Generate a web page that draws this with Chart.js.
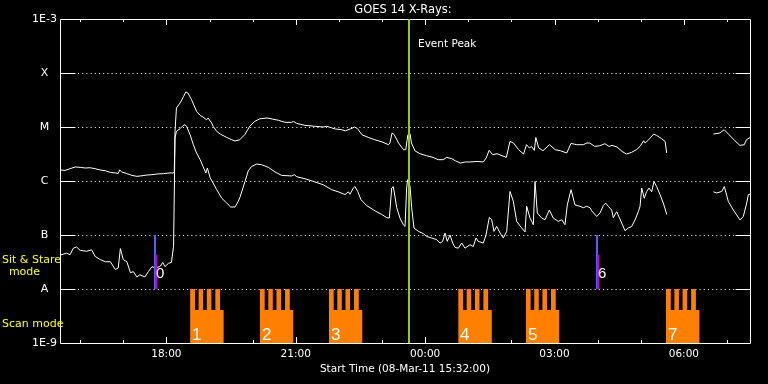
<!DOCTYPE html>
<html><head><meta charset="utf-8">
<script src="https://cdn.jsdelivr.net/npm/chart.js@4"></script>
<style>html,body{margin:0;padding:0;background:#000;}canvas{display:block;}</style>
</head><body>
<canvas id="c" width="768" height="384"></canvas>
<script>
// ---- texts / ticks ----
const chartTitle = 'GOES 14 X-Rays:';
const xAxisTitle = 'Start Time (08-Mar-11 15:32:00)';
const yTickValues = [1e-9, 1e-8, 1e-7, 1e-6, 1e-5, 1e-4, 1e-3];
const yTickLabels = ['1E-9', 'A', 'B', 'C', 'M', 'X', '1E-3'];
const gridLevels = [1e-8, 1e-7, 1e-6, 1e-5, 1e-4];
// x values are minutes after the start time 15:32
const xMax = 960;
const xTickMinutes = [148, 328, 508, 688, 868];
const xTickLabels = ['18:00', '21:00', '00:00', '03:00', '06:00'];
const firstHourTick = 28;

// ---- long channel (upper curve) ----
const longTimes = [0,7,14,21,28,35,42,49,56,63,70,77,81,83,86,93,100,107,114,121,128,135,144,153,158,159,160,162,167,172,175,178,183,190,195,199,204,206,211,213,218,223,232,239,243.5,250,257,264,271,278,288,295,304,313,322,325,329,341,355,366,371,383,392,397,404,410,414,420,429,438,448,457,459,462,465,471,478,481,484,487,489,494,501,510,519,526,533,538,545,550,557,564,570,580,589,593,597,602,608,615,621,626,631,638,645,649,653,656,660,662,666,672,681,689,696,705,711,719,728,733,737,744,751,758,764,768,775,782,788,795,802,807,812,814,819,826,830,837,842,844,870,909,918,924,930,939,946,952,955,960];
const longFlux = [1.6e-6,1.57e-6,1.69e-6,1.82e-6,1.79e-6,1.74e-6,1.76e-6,1.69e-6,1.6e-6,1.55e-6,1.44e-6,1.41e-6,1.38e-6,1.6e-6,1.47e-6,1.37e-6,1.27e-6,1.22e-6,1.25e-6,1.29e-6,1.31e-6,1.35e-6,1.37e-6,1.41e-6,1.41e-6,1.5e-6,8.3e-6,2.25e-5,2.78e-5,3.69e-5,4.45e-5,4.26e-5,3.2e-5,1.95e-5,1.64e-5,1.53e-5,1.36e-5,1.47e-5,1.19e-5,1.03e-5,8.3e-6,7.4e-6,6.4e-6,5.8e-6,5.5e-6,5.8e-6,7.2e-6,1.03e-5,1.27e-5,1.42e-5,1.47e-5,1.41e-5,1.33e-5,1.22e-5,1.22e-5,1.27e-5,1.17e-5,1.07e-5,1.03e-5,1.0e-5,1.03e-5,9.2e-6,8.9e-6,8.5e-6,9.2e-6,1.0e-5,9.3e-6,7.2e-6,6.4e-6,5.8e-6,5.3e-6,4.7e-6,5.05e-6,7.75e-6,7.2e-6,5.05e-6,3.8e-6,3.8e-6,7.2e-6,7.5e-6,5.05e-6,3.6e-6,3.2e-6,2.94e-6,2.74e-6,2.48e-6,2.48e-6,2.74e-6,2.59e-6,2.37e-6,2.15e-6,2.25e-6,2.25e-6,2.3e-6,2.25e-6,2.67e-6,3.69e-6,3.07e-6,3.2e-6,2.94e-6,2.74e-6,5.4e-6,5.05e-6,3.8e-6,3.16e-6,4.7e-6,4.1e-6,4.37e-6,3.69e-6,6.4e-6,4.1e-6,3.64e-6,4.7e-6,3.8e-6,3.64e-6,3.3e-6,4.97e-6,4.7e-6,4.7e-6,5.05e-6,5.05e-6,4.37e-6,4.5e-6,4.9e-6,4.37e-6,4.56e-6,4.26e-6,3.53e-6,3.16e-6,3.38e-6,3.8e-6,4.37e-6,5.57e-6,5.05e-6,5.8e-6,7.4e-6,7.0e-6,6.07e-6,5.4e-6,3.3e-6,null,7.4e-6,7.75e-6,8.9e-6,7.4e-6,5.57e-6,4.56e-6,4.7e-6,5.8e-6,6.4e-6];

// ---- short channel (lower curve) ----
const shortTimes = [1.4,9.3,14,18.5,23,28,37,44,49,56,63,70,77,81,84,88,93,98,102,107,111,118,123,128,132,139,143,146,151,155,158,160,162,167,171.5,174,176,181,185.5,190,195,199,203,205,209,213,218,225,232,237.5,243.5,248,250.4,257.4,262,266.7,273.7,280.6,289.8,299.1,308.4,322.4,326,329.3,340.9,354.8,366.3,378,387.2,396.5,401.1,403.5,408.1,410.4,414.2,418.8,426.7,438.3,447.6,454.5,458.2,461.5,463.7,468.5,473,477.6,480,482.3,483.7,487,489.3,492.5,498.5,505.5,510.2,517.1,524.1,528.7,532.4,535.7,538.8,542.6,546.4,549.6,554.2,558.9,563.5,570.4,575,578.8,582,588.9,592.7,597.3,600.6,603.8,607.6,612.2,616.8,621.5,626.1,630.7,635.4,642.3,647,649.3,653.9,656.3,658.5,660.9,664.1,670.2,674.8,680.8,686.4,693.3,698.1,702.6,705.8,711,716.5,723.5,728.1,732.8,737.4,739.8,746.7,751.3,755.9,759.2,762.8,767.6,769.8,774.5,781.5,786.1,790.7,795.4,800,804.6,807,809.3,812.9,816.3,819.5,823.2,826.4,830.1,834.8,839.4,844.2,870,909,913.7,920.7,924.3,929.8,936.8,946.1,950.7,955.4,957.7,960];
const shortFlux = [4.3e-8,4.6e-8,4.3e-8,5.7e-8,6.0e-8,5.2e-8,5.0e-8,5.3e-8,4.0e-8,3.5e-8,3.2e-8,3.2e-8,2.3e-8,2.45e-8,5.6e-8,3.5e-8,3.2e-8,2.0e-8,2.1e-8,1.67e-8,1.84e-8,1.67e-8,2.1e-8,2.6e-8,2.45e-8,2.6e-8,3.1e-8,2.6e-8,3.0e-8,3.1e-8,6.2e-8,6.25e-6,8.3e-6,9.3e-6,1.07e-5,1.1e-5,1.03e-5,7.2e-6,4.7e-6,3.3e-6,2.48e-6,1.86e-6,1.41e-6,1.74e-6,1.14e-6,9.2e-7,6.9e-7,4.8e-7,3.9e-7,3.3e-7,3.3e-7,4.2e-7,5.0e-7,9.8e-7,1.55e-6,1.86e-6,2.06e-6,2.0e-6,1.79e-6,1.47e-6,1.27e-6,1.24e-6,1.31e-6,1.2e-6,1.1e-6,9.6e-7,8.5e-7,6.9e-7,6.3e-7,5.6e-7,6.3e-7,5.7e-7,7.4e-7,7.9e-7,6.4e-7,4.5e-7,3.5e-7,2.8e-7,2.4e-7,2.1e-7,2.06e-7,7.4e-7,7.9e-7,3.2e-7,2.06e-7,1.55e-7,1.44e-7,7.4e-7,1.06e-6,8.0e-7,3.2e-7,1.35e-7,1.17e-7,1.06e-7,9.4e-8,8.8e-8,8.2e-8,7.1e-8,7.6e-8,1.09e-7,7.6e-8,1.0e-7,7.1e-8,5.9e-8,5.7e-8,7.1e-8,5.7e-8,6.6e-8,6.1e-8,8.8e-8,7.6e-8,7.1e-8,1.0e-7,2.12e-7,1.92e-7,1.17e-7,1.44e-7,1.09e-7,8.8e-8,1.17e-7,6.4e-7,4.2e-7,1.79e-7,1.35e-7,1.14e-7,3.4e-7,2.06e-7,1.79e-7,1.55e-7,9.8e-7,2.55e-7,2.06e-7,1.92e-7,2.9e-7,2.06e-7,1.79e-7,1.92e-7,1.55e-7,3.6e-7,6.9e-7,3.6e-7,3.4e-7,3.2e-7,3.4e-7,3.2e-7,2.8e-7,2.2e-7,2.55e-7,3.5e-7,3.9e-7,3.4e-7,2.9e-7,2.1e-7,2.7e-7,1.67e-7,1.2e-7,1.35e-7,1.44e-7,1.9e-7,2.7e-7,3.4e-7,7.4e-7,4.8e-7,6.4e-7,7.4e-7,6.3e-7,9.8e-7,7.9e-7,5.6e-7,3.9e-7,2.4e-7,null,6.3e-7,6.0e-7,6.4e-7,7.9e-7,4.2e-7,2.9e-7,1.9e-7,2.2e-7,3.9e-7,5.6e-7,5.7e-7];

// ---- events ----
const eventPeakMinute = 486;
const eventPeakLabel = 'Event Peak';
const sitStareMinutes = [132.5, 747];
const sitStareLabels = ['0', '6'];
const sitStareTop = 1e-7, sitStareMid = 4.3e-8, sitStareBottom = 1e-8;
const scanStarts = [181, 278, 374, 554, 648, 843];
const scanLabels = ['1', '2', '3', '4', '5', '7'];
const scanOffsets = [0, 6.8, 11.8, 18.1, 23.2, 29.6, 35.1, 41.7, 46.9];
const scanLevels = [1e-8, 4.1e-9, 1e-8, 4.1e-9, 1e-8, 4.1e-9, 1e-8, 4.1e-9, 4.1e-9];

// ---- build datasets from the arrays ----
const pairs = (ts, vs) => ts.map((t, i) => ({x: t, y: vs[i]}));
const scanData = [];
scanStarts.forEach(s => {
  scanOffsets.forEach((o, i) => scanData.push({x: s + o, y: scanLevels[i]}));
  scanData.push({x: s + scanOffsets[scanOffsets.length - 1] + 3, y: null});
});

const FONT = 'DejaVu Sans';

const framePlugin = {
  id: 'frame',
  beforeDatasetsDraw(chart) {
    const {ctx, chartArea: a, scales: {x, y}} = chart;
    const L = Math.round(a.left) + 0.5, R = Math.round(a.right) + 0.5;
    const T = Math.round(a.top) + 0.5, B = Math.round(a.bottom) + 0.5;
    ctx.save();
    ctx.strokeStyle = '#fff';
    ctx.lineWidth = 1;
    ctx.beginPath();
    ctx.moveTo(L, T); ctx.lineTo(R, T); ctx.lineTo(R, B); ctx.lineTo(L, B); ctx.closePath();
    ctx.stroke();
    gridLevels.forEach(v => {
      const py = Math.round(y.getPixelForValue(v)) + 0.5;
      ctx.setLineDash([]);
      ctx.beginPath();
      ctx.moveTo(L, py); ctx.lineTo(L + 15, py);
      ctx.moveTo(R - 15, py); ctx.lineTo(R, py);
      ctx.stroke();
      ctx.setLineDash([1, 3.2]);
      ctx.beginPath();
      ctx.moveTo(Math.round(a.left) + 18, py); ctx.lineTo(Math.round(a.right) - 15, py);
      ctx.stroke();
    });
    ctx.setLineDash([]);
    ctx.beginPath();
    for (let m = firstHourTick; m <= xMax; m += 60) {
      const px = Math.round(x.getPixelForValue(m)) + 0.5;
      const len = xTickMinutes.includes(m) ? 6 : 3;
      ctx.moveTo(px, Math.round(a.top)); ctx.lineTo(px, Math.round(a.top) + len);
      ctx.moveTo(px, Math.round(a.bottom)); ctx.lineTo(px, Math.round(a.bottom) - len);
    }
    ctx.stroke();
    ctx.restore();
  },
  afterDatasetsDraw(chart) {
    const {ctx, chartArea: a, scales: {x, y}} = chart;
    ctx.save();
    // event peak line
    const ex = x.getPixelForValue(eventPeakMinute);
    ctx.fillStyle = '#99cc00';
    ctx.fillRect(Math.round(ex) - 1, a.top, 2, a.bottom - a.top);
    ctx.fillStyle = '#fff';
    ctx.font = '10.5px "' + FONT + '"';
    ctx.textBaseline = 'alphabetic';
    ctx.textAlign = 'left';
    ctx.fillText(eventPeakLabel, Math.round(ex) + 9, a.top + 28);
    // sit & stare markers
    sitStareMinutes.forEach((m, i) => {
      const px = Math.round(x.getPixelForValue(m));
      const yt = y.getPixelForValue(sitStareTop), ym = y.getPixelForValue(sitStareMid), yb = y.getPixelForValue(sitStareBottom);
      ctx.fillStyle = '#5a5aff';
      ctx.fillRect(px - 1, yt, 2, yb - yt);
      ctx.fillStyle = '#cc00cc';
      ctx.fillRect(px, ym, 2, yb - ym);
      ctx.fillStyle = '#fff';
      ctx.font = '15px "Liberation Sans"';
      ctx.fillText(sitStareLabels[i], px + 1, 278);
    });
    // scan labels
    ctx.font = '17px "Liberation Sans"';
    ctx.fillStyle = '#fff';
    scanStarts.forEach((s, i) => {
      ctx.fillText(scanLabels[i], Math.round(x.getPixelForValue(s)) + 2, Math.round(a.bottom) - 3.5);
    });
    // mode labels
    ctx.fillStyle = '#ffff00';
    ctx.font = '11px "' + FONT + '"';
    ctx.textAlign = 'left';
    ctx.fillText('Sit & Stare', 2, 263);
    ctx.textAlign = 'center';
    ctx.fillText('mode', 24.5, 275);
    ctx.textAlign = 'left';
    ctx.fillText('Scan mode', 2, 327);
    // titles
    ctx.fillStyle = '#fff';
    ctx.textAlign = 'center';
    const cx = (a.left + a.right) / 2;
    ctx.font = '11.5px "' + FONT + '"';
    ctx.fillText(chartTitle, cx - 2, 13);
    ctx.font = '10.5px "' + FONT + '"';
    ctx.fillText(xAxisTitle, cx, 371.5);
    ctx.restore();
  }
};

new Chart(document.getElementById('c').getContext('2d'), {
  type: 'line',
  data: {
    datasets: [
      {data: pairs(longTimes, longFlux), borderColor: '#fff', borderWidth: 1, pointRadius: 0, fill: false, spanGaps: false, tension: 0},
      {data: pairs(shortTimes, shortFlux), borderColor: '#fff', borderWidth: 1, pointRadius: 0, fill: false, spanGaps: false, tension: 0},
      {data: scanData, borderWidth: 0, borderColor: 'rgba(0,0,0,0)', backgroundColor: '#ff8000', fill: 'start', stepped: true, pointRadius: 0, spanGaps: false}
    ]
  },
  options: {
    responsive: false,
    animation: false,
    devicePixelRatio: 1,
    events: [],
    layout: {autoPadding: false, padding: {top: 19, right: 18, left: 0, bottom: 0}},
    plugins: {legend: {display: false}, tooltip: {enabled: false}, title: {display: false}},
    scales: {
      x: {
        type: 'linear', min: 0, max: xMax,
        grid: {display: false, drawTicks: false}, border: {display: false},
        afterBuildTicks: s => { s.ticks = xTickMinutes.map(v => ({value: v})); },
        afterFit: s => { s.height = 41; s.paddingLeft = 0; s.paddingRight = 0; },
        ticks: {color: '#fff', font: {family: FONT, size: 10.5}, padding: 5, maxRotation: 0, minRotation: 0, autoSkip: false,
                callback: (v, i) => xTickLabels[i]}
      },
      y: {
        type: 'logarithmic', min: 1e-9, max: 1e-3,
        grid: {display: false, drawTicks: false}, border: {display: false},
        afterBuildTicks: s => { s.ticks = yTickValues.map(v => ({value: v})); },
        afterFit: s => { s.width = 60; s.paddingTop = 0; s.paddingBottom = 0; },
        ticks: {color: '#fff', font: {family: FONT, size: 11}, padding: 3, crossAlign: 'center', autoSkip: false,
                callback: (v, i) => yTickLabels[i]}
      }
    }
  },
  plugins: [framePlugin]
});
</script>
</body></html>
